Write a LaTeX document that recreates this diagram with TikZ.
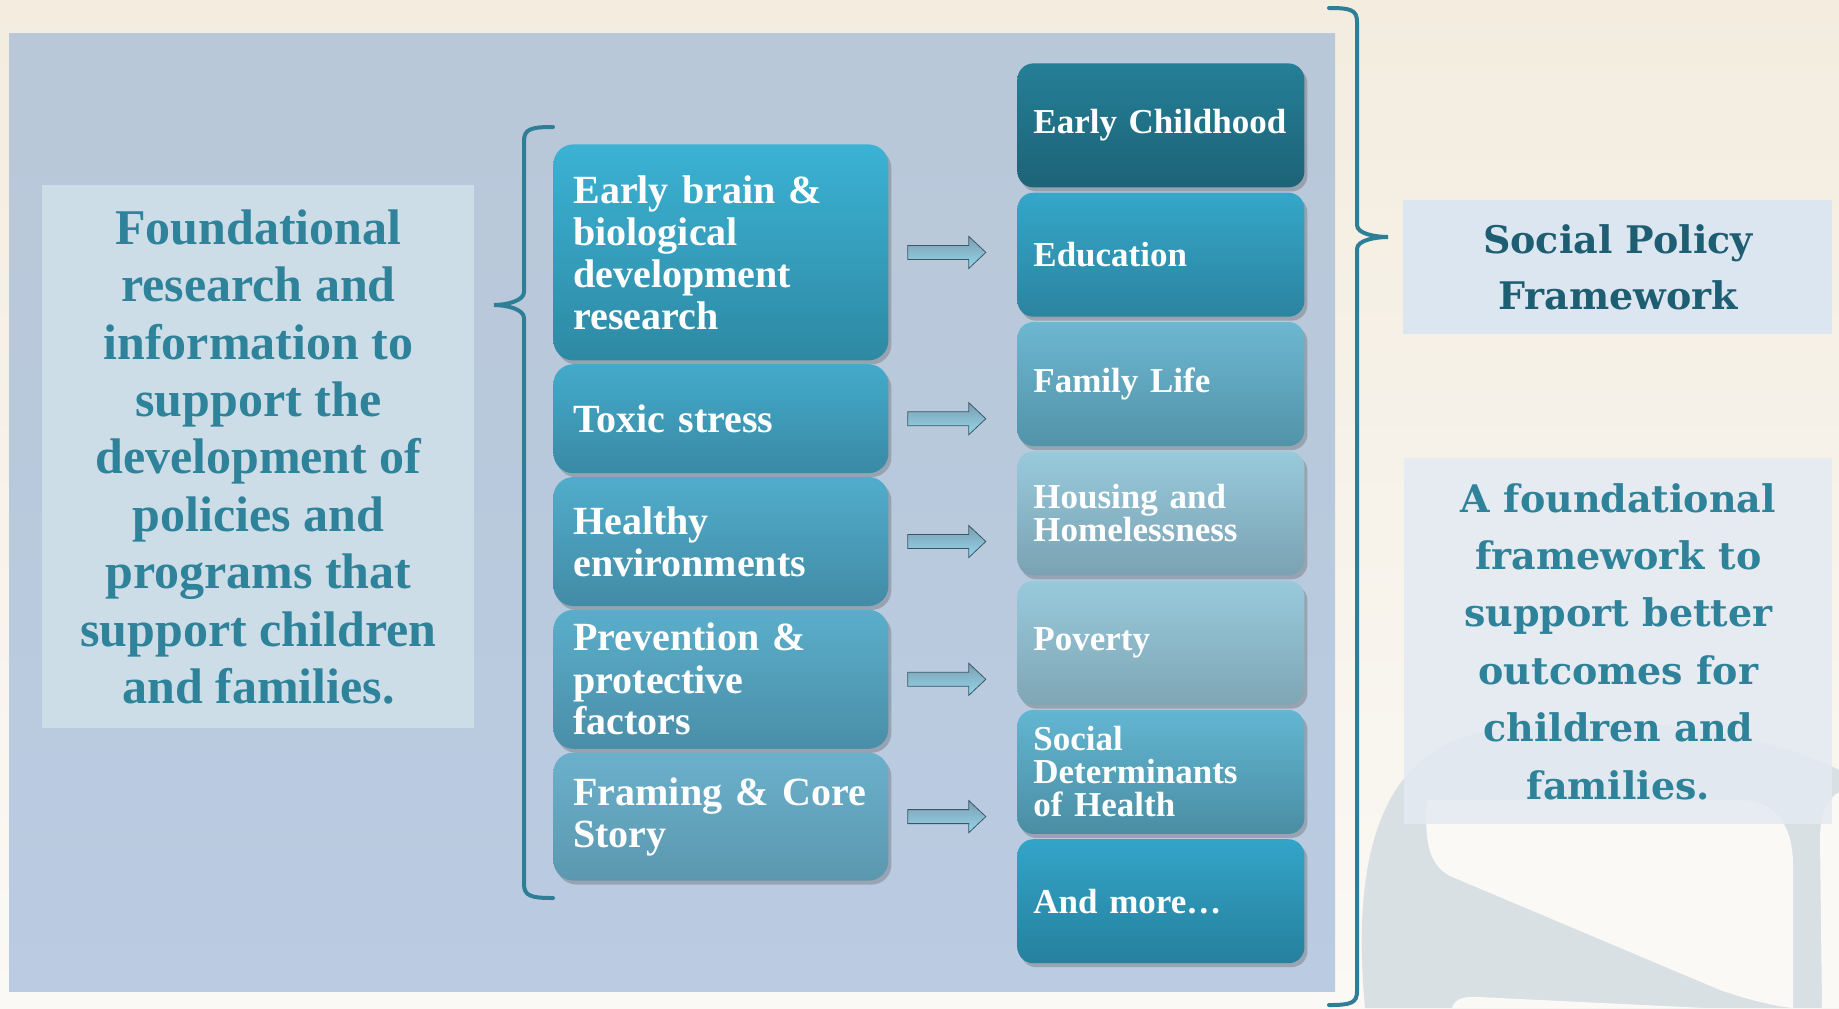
\documentclass[tikz,border=0pt]{standalone}
\usepackage{fontspec}
\setmainfont{Liberation Serif}
\newfontfamily\wideserif{DejaVu Serif}
\usetikzlibrary{positioning,calc,shadows}
\definecolor{bgTop}{HTML}{F3ECDF}
\definecolor{bgBot}{HTML}{FBF9F5}
\definecolor{panelTop}{HTML}{B9C8D8}
\definecolor{panelBot}{HTML}{BACBE2}
\definecolor{leftBox}{HTML}{CCDDE8}
\definecolor{policyBox}{HTML}{DCE6F0}
\definecolor{outcomeBox}{HTML}{E3EAF2}
\definecolor{tealText}{HTML}{2E8299}
\definecolor{darkTeal}{HTML}{1E5E72}
\definecolor{braceCol}{HTML}{2E7E96}
\definecolor{swooshCol}{HTML}{D9E0E3}
\definecolor{arrTop}{HTML}{7D9DB0}
\definecolor{arrMid}{HTML}{D0E4EC}
\definecolor{arrBot}{HTML}{93D7EC}
\definecolor{arrEdge}{HTML}{3B5766}
\definecolor{lOneT}{HTML}{3BB2D4}\definecolor{lOneB}{HTML}{2E89A3}
\definecolor{lTwoT}{HTML}{43AACB}\definecolor{lTwoB}{HTML}{398AA4}
\definecolor{lThrT}{HTML}{50ADCB}\definecolor{lThrB}{HTML}{428BA6}
\definecolor{lFouT}{HTML}{5AAECB}\definecolor{lFouB}{HTML}{4A8EA8}
\definecolor{lFivT}{HTML}{6BB0CB}\definecolor{lFivB}{HTML}{5B98AF}
\definecolor{rOneT}{HTML}{247F97}\definecolor{rOneB}{HTML}{1D6377}
\definecolor{rTwoT}{HTML}{35A6C9}\definecolor{rTwoB}{HTML}{2B84A0}
\definecolor{rThrT}{HTML}{6CB7D1}\definecolor{rThrB}{HTML}{5293A8}
\definecolor{rFouT}{HTML}{98CADC}\definecolor{rFouB}{HTML}{7AA2B2}
\definecolor{rFivT}{HTML}{98CADC}\definecolor{rFivB}{HTML}{7FA6B5}
\definecolor{rSixT}{HTML}{62B6D2}\definecolor{rSixB}{HTML}{4A8DA3}
\definecolor{rSevT}{HTML}{33A4C8}\definecolor{rSevB}{HTML}{26809D}
\begin{document}
\begin{tikzpicture}[x=0.5pt,y=-0.5pt,
  boxshadow/.style={drop shadow={shadow xshift=1.5pt,shadow yshift=-2pt,opacity=.3,fill=black!70}},
  lbox/.style={boxshadow,rounded corners=10pt,minimum height=#1,text width=147.5pt,inner xsep=10pt,inner ysep=0pt,align=left,text=white,font=\bfseries\fontsize{20}{21}\selectfont},
  rbox/.style={boxshadow,rounded corners=8pt,minimum height=62pt,text width=127.5pt,inner xsep=8pt,inner ysep=0pt,align=left,text=white,font=\bfseries\fontsize{17.5}{16.5}\selectfont},
  sidebox/.style={inner sep=0pt,align=center,anchor=north west},
  bigbrace/.style={draw=braceCol,line width=2pt,line cap=round},
  blockarrow/.style={top color=arrTop,middle color=arrMid,bottom color=arrBot,draw=arrEdge,line width=.4pt}]
\useasboundingbox (0,0) rectangle (1839,1008);
\shade[top color=bgTop,bottom color=bgBot] (0,0) rectangle (1839,1008);
\fill[swooshCol] (1365,1008) .. controls (1355,900) and (1362,765) .. (1470,735) .. controls (1600,705) and (1760,730) .. (1839,770) -- (1839,1008) -- cycle;
\fill[bgBot] (1427,800) .. controls (1424,845) and (1430,865) .. (1450,876) -- (1720,990) .. controls (1760,1004) and (1790,1008) .. (1793,1008) -- (1793,865) .. controls (1793,825) and (1775,800) .. (1740,800) -- cycle;
\fill[bgBot] (1839,792) .. controls (1826,800) and (1820,815) .. (1820,840) -- (1822,1008) -- (1839,1008) -- cycle;
\fill[bgBot] (1452,1008) .. controls (1454,1000) and (1462,996) .. (1478,997) -- (1705,1008) -- cycle;
\shade[top color=panelTop,bottom color=panelBot] (9,33) rectangle (1335,991);
\node[sidebox,fill=leftBox,minimum width=216pt,minimum height=271.5pt,text=tealText,font=\bfseries\fontsize{25}{28.7}\selectfont] (found) at (42,185)
  {Foundational\\research and\\information to\\support the\\development of\\policies and\\programs that\\support children\\and families.};
\node[lbox=108pt,top color=lOneT,bottom color=lOneB,anchor=north west] (l1) at (553,144) {Early brain \&\\biological\\development\\research};
\node[lbox=54.5pt,top color=lTwoT,bottom color=lTwoB,below=1.5pt of l1] (l2) {Toxic stress};
\node[lbox=64.5pt,top color=lThrT,bottom color=lThrB,below=1.5pt of l2] (l3) {Healthy\\environments};
\node[lbox=69.5pt,top color=lFouT,bottom color=lFouB,below=1.5pt of l3] (l4) {Prevention \&\\protective\\factors};
\node[lbox=64pt,top color=lFivT,bottom color=lFivB,below=1.5pt of l4] (l5) {Framing \& Core\\Story};
\node[rbox,top color=rOneT,bottom color=rOneB,anchor=north west] (r1) at (1017,63) {Early Childhood};
\node[rbox,top color=rTwoT,bottom color=rTwoB,below=2.25pt of r1] (r2) {Education};
\node[rbox,top color=rThrT,bottom color=rThrB,below=2.25pt of r2] (r3) {Family Life};
\node[rbox,top color=rFouT,bottom color=rFouB,below=2.25pt of r3] (r4) {Housing and\\Homelessness};
\node[rbox,top color=rFivT,bottom color=rFivB,below=2.25pt of r4] (r5) {Poverty};
\node[rbox,top color=rSixT,bottom color=rSixB,below=2.25pt of r5] (r6) {Social\\Determinants\\of Health};
\node[rbox,top color=rSevT,bottom color=rSevB,below=2.25pt of r6] (r7) {And more…};
\foreach \i in {1,...,5}
  \draw[blockarrow] ($(l\i.east)+(19,7)$) -- ++(61,0) -- ++(0,9) -- ++(17,-16) -- ++(-17,-16) -- ++(0,9) -- ++(-61,0) -- cycle;
\coordinate (lbTop) at ($(l1.north west)+(0,-17)$);
\coordinate (lbBot) at ($(l5.south west)+(0,17)$);
\draw[bigbrace] (lbTop) .. controls +(-22,0) and +(0,-12) .. ++(-29,14) -- (524,292) .. controls (524,301) and (506,305) .. (494,305) .. controls (506,305) and (524,309) .. (524,318) -- ($(lbBot)+(-29,-14)$) .. controls +(0,12) and +(-22,0) .. (lbBot);
\draw[bigbrace] (1329,8) .. controls +(22,0) and +(0,-12) .. (1357,22) -- (1357,225) .. controls (1357,234) and (1376,237) .. (1388,237) .. controls (1376,237) and (1357,240) .. (1357,249) -- (1357,991) .. controls +(0,12) and +(22,0) .. (1329,1005);
\node[sidebox,fill=policyBox,minimum width=214.5pt,minimum height=67pt,text=darkTeal,font=\wideserif\bfseries\fontsize{19}{28}\selectfont] (policy) at (1403,200)
  {Social Policy\\Framework};
\node[sidebox,fill=outcomeBox,fill opacity=.85,text opacity=1,minimum width=214pt,minimum height=183pt,text=tealText,font=\wideserif\bfseries\fontsize{19}{28.7}\selectfont] (outcome) at (1404,458)
  {A foundational\\framework to\\support better\\outcomes for\\children and\\families.};
\end{tikzpicture}
\end{document}
